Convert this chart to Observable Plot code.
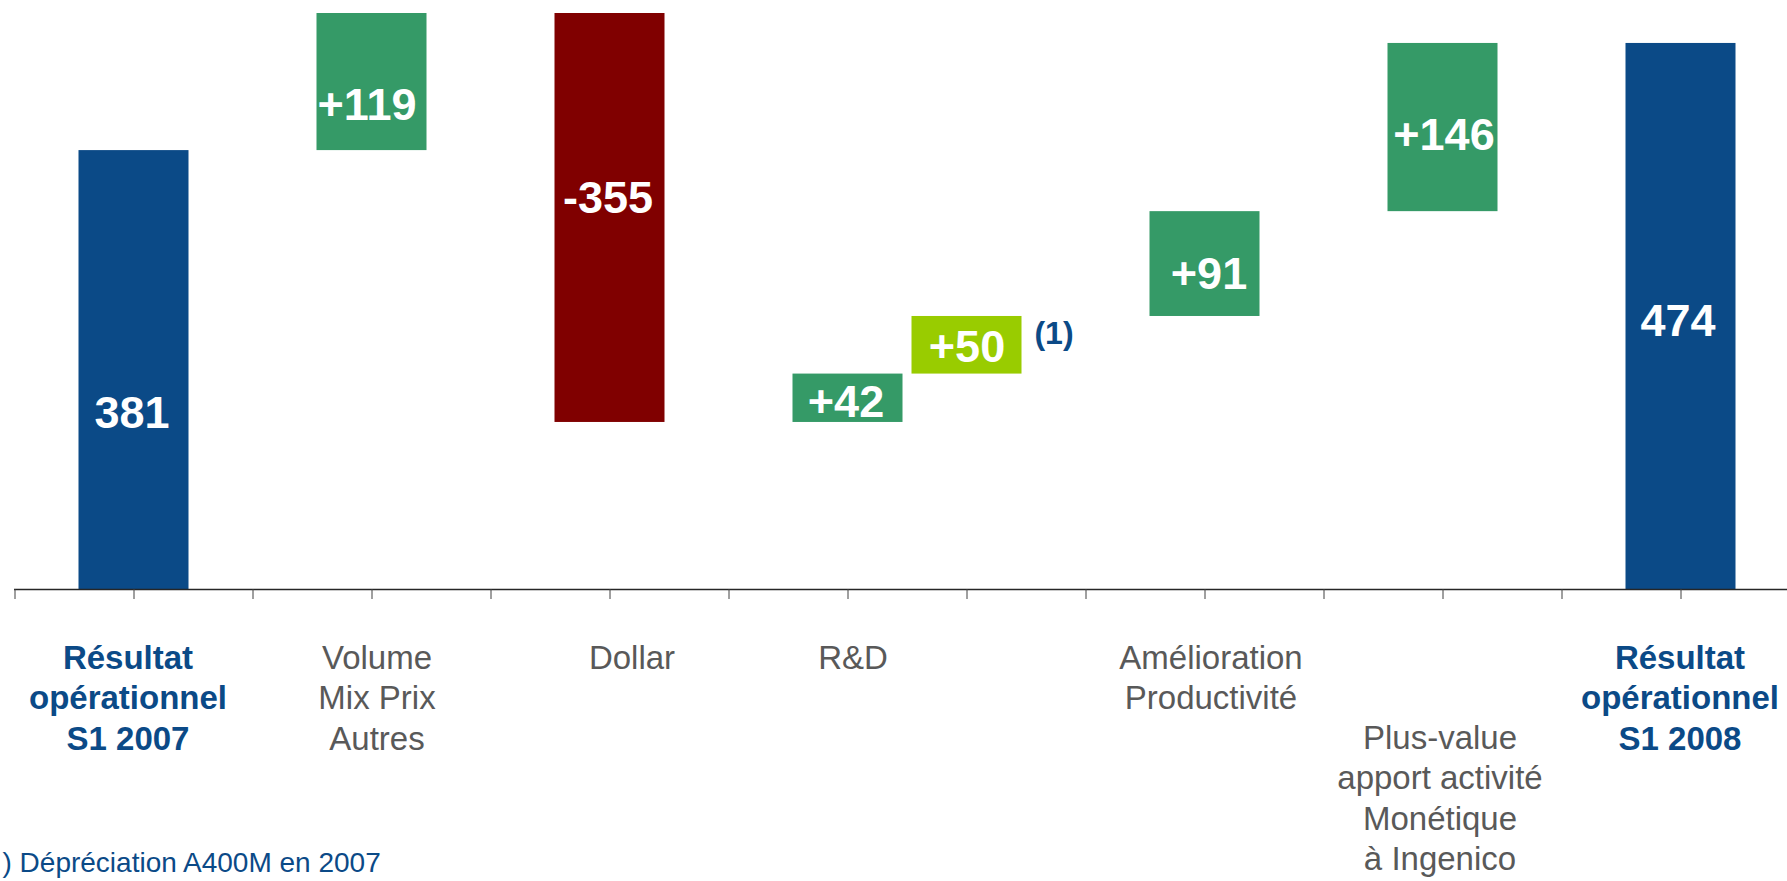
<!DOCTYPE html>
<html>
<head>
<meta charset="utf-8">
<script src="https://cdn.jsdelivr.net/npm/d3@7"></script>
<script src="https://cdn.jsdelivr.net/npm/@observablehq/plot@0.6"></script>
<style>
  html, body { margin: 0; padding: 0; background: #fff; overflow: hidden; }
  #chart svg { display: block; }
</style>
</head>
<body>
<div id="chart"></div>
<script>
// ---------- data ----------
// x-axis categories of the original chart (empty spacer slots included)
const axisSlots = ["s0", "r2007", "s1", "volume", "s2", "dollar", "s3", "rd", "a400m", "s4", "productivite", "s5", "plusvalue", "s6", "r2008"];
// waterfall steps
const stepKeys   = ["r2007", "volume", "dollar", "rd", "a400m", "productivite", "plusvalue", "r2008"];
const stepValues = [381, 119, -355, 42, 50, 91, 146, 474];
const stepKinds  = ["total", "up", "down", "up", "a400m", "up", "up", "total"];
const categoryLabels = [
  "Résultat\nopérationnel\nS1 2007",
  "Volume\nMix Prix\nAutres",
  "Dollar",
  "R&D",
  "",
  "Amélioration\nProductivité",
  "Plus-value\napport activité\nMonétique\nà Ingenico",
  "Résultat\nopérationnel\nS1 2008"
];
const noteMark = "(1)";
const noteText = ") Dépréciation A400M en 2007";

// ---------- styles ----------
const FONT = "'Liberation Sans', Arial, Helvetica, sans-serif";
const kindColors = { total: "#0B4A87", up: "#359A67", down: "#800000", a400m: "#99CC00" };
const valueLabelDy = { r2007: 44, volume: 24, dollar: -19, rd: 4, a400m: 2, productivite: 11, plusvalue: 8, r2008: 5 };
const valueLabelDx = { r2007: -2, volume: -5, dollar: -2, rd: -2, a400m: 0, productivite: 4, plusvalue: 1, r2008: -3 };
const catLabelDx = { r2007: -6, volume: 5, dollar: 22, rd: 5, a400m: 0, productivite: 6, plusvalue: -3, r2008: -1 };
const catLabelDy = { plusvalue: 131 };

// ---------- build waterfall rows ----------
let running = 0;
const rows = stepKeys.map((key, i) => {
  const v = stepValues[i];
  const kind = stepKinds[i];
  let y1, y2, label;
  if (kind === "total") {
    y1 = 0; y2 = v; running = v; label = String(v);
  } else {
    y1 = running; y2 = running + v; running = y2;
    label = (v > 0 ? "+" : "") + v;
  }
  return { key, kind, value: v, y1, y2, label, cat: categoryLabels[i], color: kindColors[kind] };
});

const valueMarks = rows.map(r => Plot.text([r], {
  x: "key", y: d => (d.y1 + d.y2) / 2, text: "label",
  fill: "white", fontSize: 45, fontWeight: "bold",
  dx: valueLabelDx[r.key], dy: valueLabelDy[r.key]
}));

const catMarks = rows.filter(r => r.cat).map(r => Plot.text([r], {
  x: "key", y: () => 0, text: "cat",
  lineAnchor: "top", lineHeight: 1.22,
  fontSize: 33,
  fontWeight: r.kind === "total" ? "bold" : "normal",
  fill: r.kind === "total" ? "#0B4A87" : "#595959",
  dx: catLabelDx[r.key],
  dy: catLabelDy[r.key] ?? 51
}));

const a400m = rows.find(r => r.key === "a400m");

const chart = Plot.plot({
  width: 1787,
  height: 881,
  marginLeft: 14,
  marginRight: 0,
  marginTop: 13,
  marginBottom: 292,
  style: { fontFamily: FONT, background: "white", overflow: "visible" },
  x: { type: "band", domain: axisSlots, range: [14 - 59.57, 1682 + 59.57], padding: 0, axis: null },
  y: { domain: [0, 500], axis: null },
  color: { type: "identity" },
  marks: [
    Plot.barY(rows, { x: "key", y1: "y1", y2: "y2", fill: "color", insetLeft: 4.5, insetRight: 4.5 }),
    Plot.ruleY([0], { stroke: "#262626", strokeWidth: 1.4 }),
    Plot.axisX({ tickSize: 10, tickFormat: () => "", stroke: "#404040", label: null }),
    ...valueMarks,
    ...catMarks,
    Plot.text([a400m], {
      x: "key", y: d => (d.y1 + d.y2) / 2, text: () => noteMark,
      fill: "#0B4A87", fontSize: 32, fontWeight: "bold", dx: 87, dy: -12
    }),
    Plot.text([noteText], {
      frameAnchor: "bottom-left", textAnchor: "start",
      fill: "#0B4A87", fontSize: 28, dx: -12, dy: 282
    })
  ]
});

document.getElementById("chart").appendChild(chart);
</script>
</body>
</html>
